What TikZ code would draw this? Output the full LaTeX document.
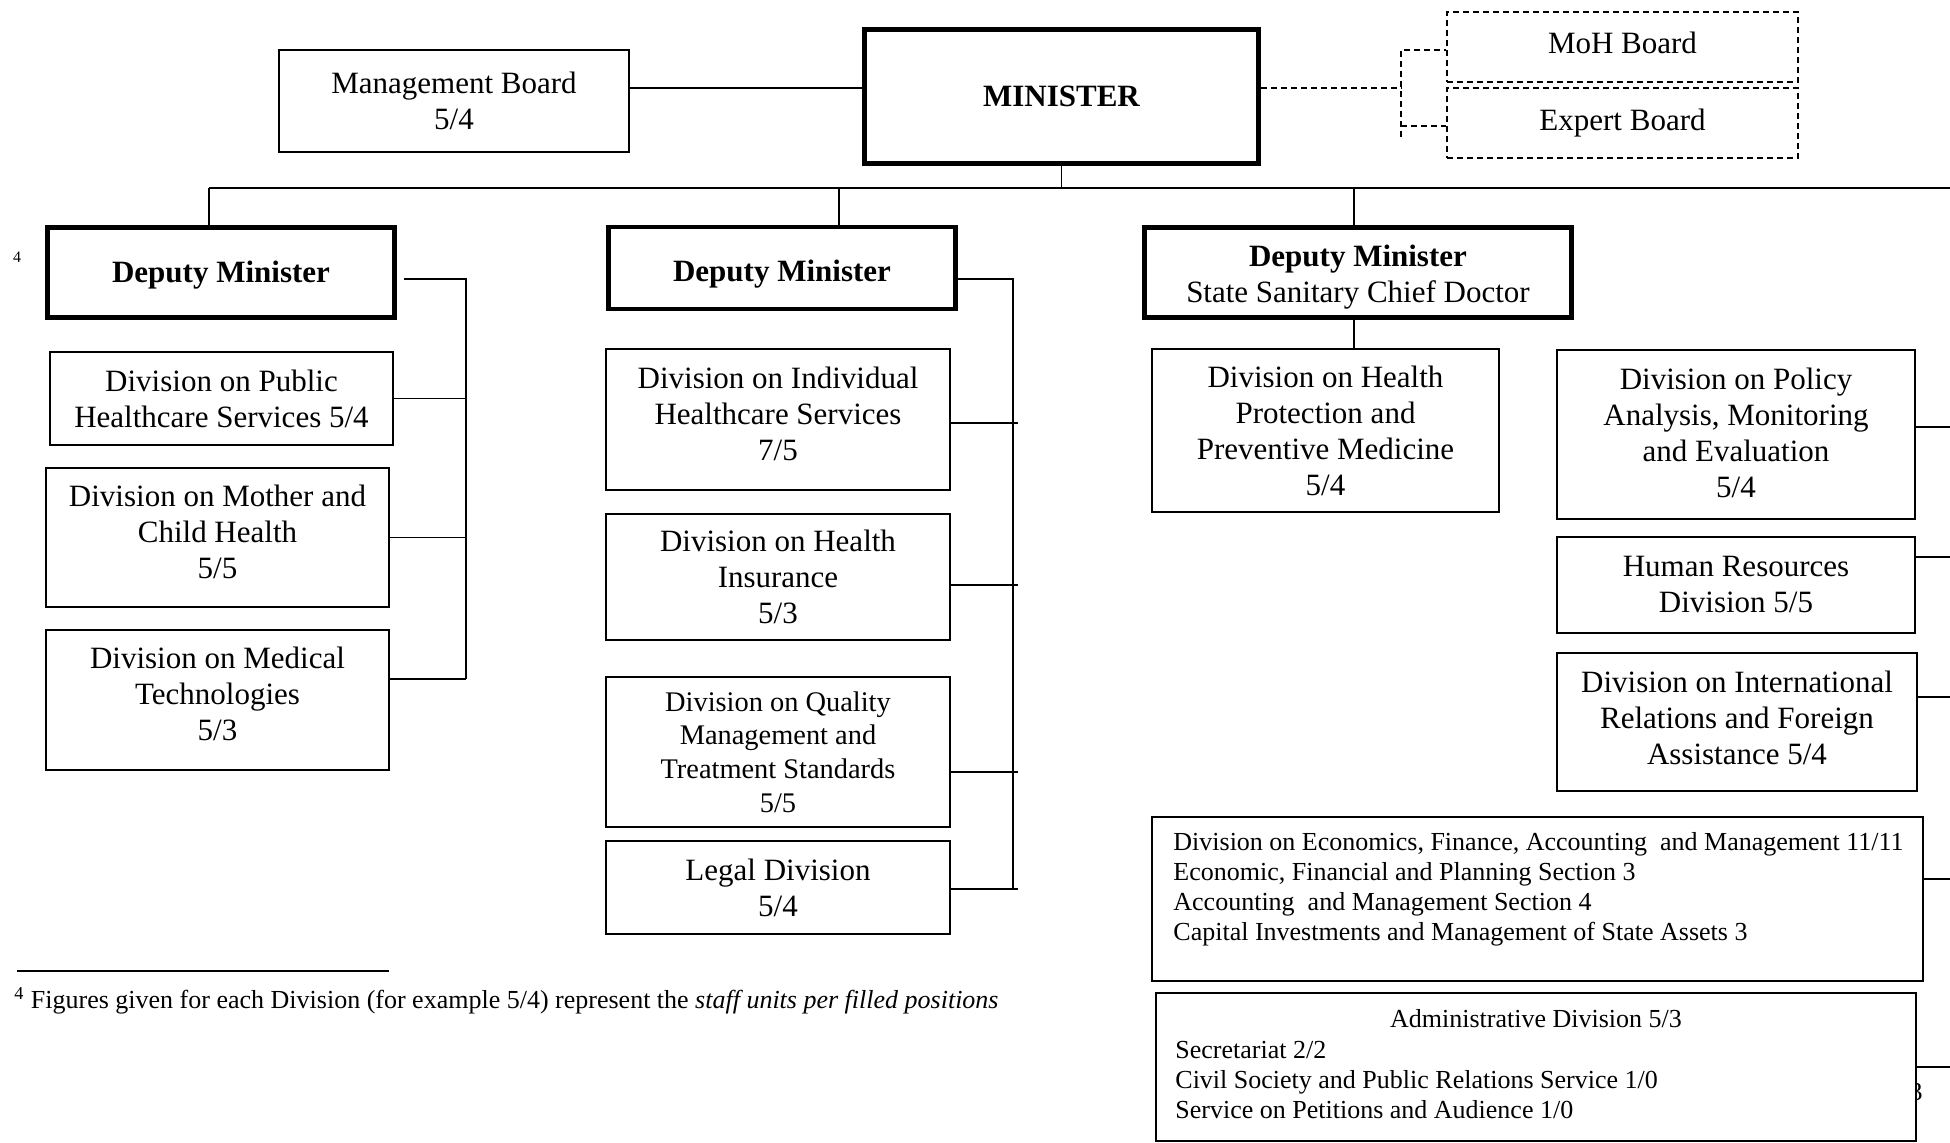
\documentclass[tikz,border=0pt]{standalone}
\usepackage{fontspec}
\setmainfont{Liberation Serif}
\usetikzlibrary{calc}

\newcommand{\unitsize}{\fontsize{15.5}{18}\selectfont}
\newcommand{\smallunitsize}{\fontsize{14.2}{16.8}\selectfont}
\newcommand{\listsize}{\fontsize{13}{15}\selectfont}
\newcommand{\notesize}{\fontsize{13}{15}\selectfont}
% struts to move a text up or down inside its box
\newcommand{\padbelow}[1]{\rule[-#1]{0pt}{#1}}
\newcommand{\padabove}[1]{\rule{0pt}{#1}}

\begin{document}
\begin{tikzpicture}[x=0.5pt,y=-0.5pt,inner sep=0pt,
  unit/.style={draw,line width=0.8pt,align=center,font=\unitsize},
  chief/.style={unit,line width=2.4pt,font=\unitsize\bfseries},
  board/.style={unit,dash pattern=on 3pt off 2pt},
  listtext/.style={align=left,font=\listsize},
  link/.style={line width=0.8pt},
  dashlink/.style={link,dash pattern=on 3pt off 2pt}]

\useasboundingbox (0,0) rectangle (1950,1143);

% top level
\node[unit,minimum width=175pt,minimum height=51pt] (mgmt) at (454,101) {Management Board\\5/4};
\node[chief,minimum width=197pt,minimum height=67pt] (minister) at (1061.5,96.5) {MINISTER};
\node[board,minimum width=175.5pt,minimum height=35pt] (mohb) at (1622.5,47) {MoH Board\padbelow{4pt}};
\node[board,minimum width=175.5pt,minimum height=35pt] (expb) at (1622.5,123) {Expert Board};

\node[chief,minimum width=173.5pt,minimum height=45pt] (dep1) at (221,272.5) {\padabove{13pt}Deputy Minister};
\node[chief,minimum width=173.5pt,minimum height=41pt] (dep2) at (782,268) {\padabove{16.5pt}Deputy Minister};
\node[chief,minimum width=213.5pt,minimum height=45pt] (dep3) at (1358,272.5)
	{\padabove{15.5pt}Deputy Minister\\\mdseries State Sanitary Chief Doctor};
\node[font=\fontsize{8}{9}\selectfont] (fnmark) at (17,257) {4};

% first deputy
\node[unit,minimum width=171.5pt,minimum height=46.5pt] (pubcare) at (221.5,398.5)
	{Division on Public\\Healthcare Services 5/4};
\node[unit,minimum width=171.5pt,minimum height=69.5pt] (mchild) at (217.5,537.5)
	{Division on Mother and\\Child Health\\5/5\padbelow{6pt}};
\node[unit,minimum width=171.5pt,minimum height=70pt] (medtech) at (217.5,700)
	{Division on Medical\\Technologies\\5/3\padbelow{6pt}};

% second deputy
\node[unit,minimum width=172pt,minimum height=70.5pt] (indcare) at (778,419.5)
	{Division on Individual\\Healthcare Services\\7/5\padbelow{6pt}};
\node[unit,minimum width=172pt,minimum height=63pt] (insur) at (778,577)
	{Division on Health\\Insurance\\5/3};
\node[unit,minimum width=172pt,minimum height=75pt,font=\smallunitsize] (quality) at (778,752)
	{Division on Quality\\Management and\\Treatment Standards\\5/5};
\node[unit,minimum width=172pt,minimum height=46.5pt] (legal) at (778,887.5)
	{Legal Division\\5/4};

% third deputy and the right column
\node[unit,minimum width=173.5pt,minimum height=81.5pt] (protect) at (1325.5,430.5)
	{Division on Health\\Protection and\\Preventive Medicine\\5/4};
\node[unit,minimum width=179pt,minimum height=84.5pt] (policy) at (1736,434.5)
	{Division on Policy\\Analysis, Monitoring\\and Evaluation\\5/4\padbelow{2pt}};
\node[unit,minimum width=179pt,minimum height=48pt] (hres) at (1736,585)
	{Human Resources\\Division 5/5};
\node[unit,minimum width=180pt,minimum height=69pt] (intrel) at (1737,722)
	{Division on International\\Relations and Foreign\\Assistance 5/4\padbelow{4pt}};

\node[unit,minimum width=385.5pt,minimum height=82pt] (econ) at (1537.5,899) {};
\node[listtext,anchor=north west] (econtext) at (1173,832)
	{Division on Economics, Finance, Accounting\ \ and Management 11/11\\
	 Economic, Financial and Planning Section 3\\
	 Accounting\ \ and Management Section 4\\
	 Capital Investments and Management of State Assets 3};

\node[font=\listsize,anchor=east] (pagenum) at (1923,1092) {3};
\node[unit,fill=white,minimum width=380pt,minimum height=74pt] (admin) at (1536,1067) {};
\node[font=\listsize] (admintitle) at (1536,1019) {Administrative Division 5/3};
\node[listtext,anchor=north west] (admintext) at (1175,1041)
	{Secretariat 2/2\\
	 Civil Society and Public Relations Service 1/0\\
	 Service on Petitions and Audience 1/0};

% connectors
\coordinate (tie) at (0,88);
\coordinate (busl) at (209,188);
\coordinate (busr) at (1950,188);
\coordinate (bus2) at (839,188);
\coordinate (bus3) at (1354,188);

\draw[link] (mgmt.east |- tie) -- (minister.west |- tie);
\draw[link] (busl) -- (busr);
\draw[link] (minister.south) -- (minister.south |- busl);
\draw[link] (busl) -- (busl |- dep1.north);
\draw[link] (bus2) -- (bus2 |- dep2.north);
\draw[link] (bus3) -- (bus3 |- dep3.north);
\draw[link] (bus3 |- dep3.south) -- (bus3 |- protect.north);

\coordinate (hub) at (1401,88);
\coordinate (hubtop) at (1401,50);
\coordinate (hubexp) at (1401,126);
\coordinate (hubbot) at (1401,137);
\draw[dashlink] (minister.east |- hub) -- (hub);
\draw[dashlink] (hubbot) -- (hubtop) -- (hubtop -| mohb.west);
\draw[dashlink] (hubexp) -- (hubexp -| expb.west);

\coordinate (spine1) at (466,279);
\coordinate (spine1end) at (466,679);
\draw[link] (dep1.east |- spine1) ++(7,0) -- (spine1) -- (spine1end);
\draw[link] (pubcare.east) -- (pubcare.east -| spine1);
\draw[link] (mchild.east) -- (mchild.east -| spine1);
\draw[link] (spine1end -| medtech.east) -- (spine1end);

\coordinate (spine2) at (1013,279);
\coordinate (spine2end) at (1013,889);
\draw[link] (dep2.east |- spine2) -- (spine2) -- (spine2end);
\foreach \unitname/\ty in {indcare/423,insur/585,quality/772,legal/889}
	\draw[link] (\unitname.east |- 0,\ty) -- (1018,\ty);

\foreach \unitname/\ty in {policy/427,hres/557,intrel/697,econ/879,admin/1067}
	\draw[link] (\unitname.east |- 0,\ty) -- (1950,\ty);

% footnote
\coordinate (rulel) at (17,971);
\coordinate (ruler) at (389,971);
\draw[line width=1pt] (rulel) -- (ruler);
\node[anchor=west,font=\notesize] (footnote) at (14,1001)
	{\textsuperscript{4} Figures given for each Division (for example 5/4) represent the \textit{staff units per filled positions}};

\end{tikzpicture}
\end{document}
